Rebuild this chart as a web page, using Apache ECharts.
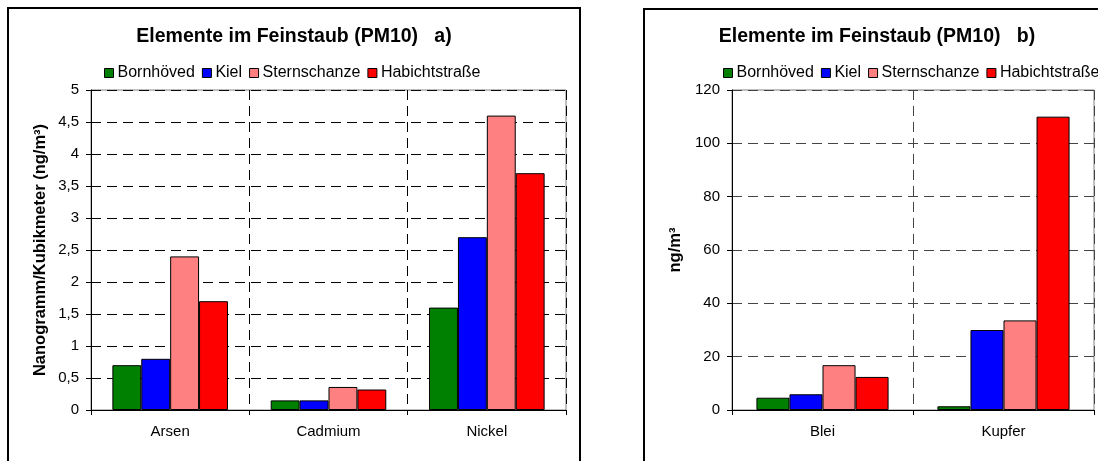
<!DOCTYPE html>
<html>
<head>
<meta charset="utf-8">
<script src="https://cdn.jsdelivr.net/npm/echarts@6/dist/echarts.min.js"></script>
<style>
html,body{margin:0;padding:0;background:#fff;}
#c{width:1098px;height:461px;}
</style>
</head>
<body>
<div id="c"></div>
<script>
// ---- data ----
const seriesNames = ['Bornhöved', 'Kiel', 'Sternschanze', 'Habichtstraße'];
const seriesColors = ['#008000', '#0000FF', '#FF8080', '#FF0000'];

const categoriesA = ['Arsen', 'Cadmium', 'Nickel'];
const bornhoevedA = [0.7, 0.15, 1.6];
const kielA = [0.8, 0.15, 2.7];
const sternschanzeA = [2.4, 0.36, 4.6];
const habichtstrasseA = [1.7, 0.32, 3.7];

const categoriesB = ['Blei', 'Kupfer'];
const bornhoevedB = [4.6, 1.4];
const kielB = [5.9, 30];
const sternschanzeB = [16.8, 33.6];
const habichtstrasseB = [12.4, 110];

const yRangeA = [0, 5, 0.5];
const yRangeB = [0, 120, 20];

const titleA = 'Elemente im Feinstaub (PM10)   a)';
const titleB = 'Elemente im Feinstaub (PM10)   b)';
const yNameA = 'Nanogramm/Kubikmeter (ng/m³)';
const yNameB = 'ng/m³';

// ---- chart ----
const FONT = "'Liberation Sans', Arial, sans-serif";
const chart = echarts.init(document.getElementById('c'), null, {renderer: 'canvas'});

function xAxisCfg(gridIndex, cats) {
  return {
    type: 'category', gridIndex: gridIndex, data: cats, boundaryGap: true,
    axisLine: {show: true, lineStyle: {color: '#000', width: 1}},
    axisTick: {show: true, length: 5, inside: false, lineStyle: {color: '#000'}},
    axisLabel: {color: '#000', fontFamily: FONT, fontSize: 15, margin: 14},
    splitLine: {show: true, interval: 0, lineStyle: {color: gridIndex === 0 ? '#000' : '#444', type: [10, 6], width: 1}}
  };
}
function yAxisCfg(gridIndex, range, name, nameGap, labelMargin, comma) {
  return {
    type: 'value', gridIndex: gridIndex, min: range[0], max: range[1], interval: range[2],
    name: name, nameLocation: 'middle', nameGap: nameGap, nameRotate: 90,
    nameTextStyle: {color: '#000', fontFamily: FONT, fontWeight: 'bold', fontSize: 16.5},
    axisLine: {show: true, lineStyle: {color: '#000', width: 1}},
    axisTick: {show: true, length: 5, lineStyle: {color: '#000'}},
    axisLabel: {color: '#000', fontFamily: FONT, fontSize: 15, margin: labelMargin,
      formatter: function (v) { return comma ? String(v).replace('.', ',') : String(v); }},
    splitLine: {show: true, lineStyle: {color: gridIndex === 0 ? '#000' : '#444', type: [10, 6], width: 1}}
  };
}

const dataA = [bornhoevedA, kielA, sternschanzeA, habichtstrasseA];
const dataB = [bornhoevedB, kielB, sternschanzeB, habichtstrasseB];
const series = [];
[dataA, dataB].forEach(function (set, gi) {
  set.forEach(function (vals, i) {
    series.push({
      type: 'bar', name: seriesNames[i], xAxisIndex: gi, yAxisIndex: gi,
      data: vals, barGap: '0%', barCategoryGap: '27%',
      itemStyle: {color: seriesColors[i], borderColor: '#000', borderWidth: 1},
      emphasis: {disabled: true}, animation: false
    });
  });
});

function legendCfg(left) {
  return {
    left: left, top: 60, width: 460, orient: 'horizontal', icon: 'rect',
    itemWidth: 9, itemHeight: 9, itemGap: 7,
    data: seriesNames,
    itemStyle: {borderColor: '#000', borderWidth: 1},
    textStyle: {color: '#000', fontFamily: FONT, fontSize: 16, padding: [0, 0, 0, -1]},
    selectedMode: false
  };
}

chart.setOption({
  animation: false,
  backgroundColor: '#fff',
  title: [
    {text: titleA, left: 289, top: 22, textAlign: 'center',
     textStyle: {color: '#000', fontFamily: FONT, fontWeight: 'bold', fontSize: 19.5}},
    {text: titleB, left: 872, top: 22, textAlign: 'center',
     textStyle: {color: '#000', fontFamily: FONT, fontWeight: 'bold', fontSize: 19.5}}
  ],
  legend: [legendCfg(99), legendCfg(718)],
  grid: [
    {left: 91, top: 90, width: 475, height: 320, show: true, borderColor: '#808080', borderWidth: 1, backgroundColor: 'transparent'},
    {left: 732, top: 90, width: 362, height: 320, show: true, borderColor: '#808080', borderWidth: 1, backgroundColor: 'transparent'}
  ],
  xAxis: [xAxisCfg(0, categoriesA), xAxisCfg(1, categoriesB)],
  yAxis: [yAxisCfg(0, yRangeA, yNameA, 42, 12, true), yAxisCfg(1, yRangeB, yNameB, 48, 12, false)],
  series: series,
  graphic: [
    {type: 'rect', shape: {x: 8, y: 8, width: 572, height: 480}, style: {fill: 'none', stroke: '#000', lineWidth: 2}, silent: true},
    {type: 'rect', shape: {x: 644, y: 9, width: 480, height: 480}, style: {fill: 'none', stroke: '#000', lineWidth: 2}, silent: true}
  ]
});
</script>
</body>
</html>
